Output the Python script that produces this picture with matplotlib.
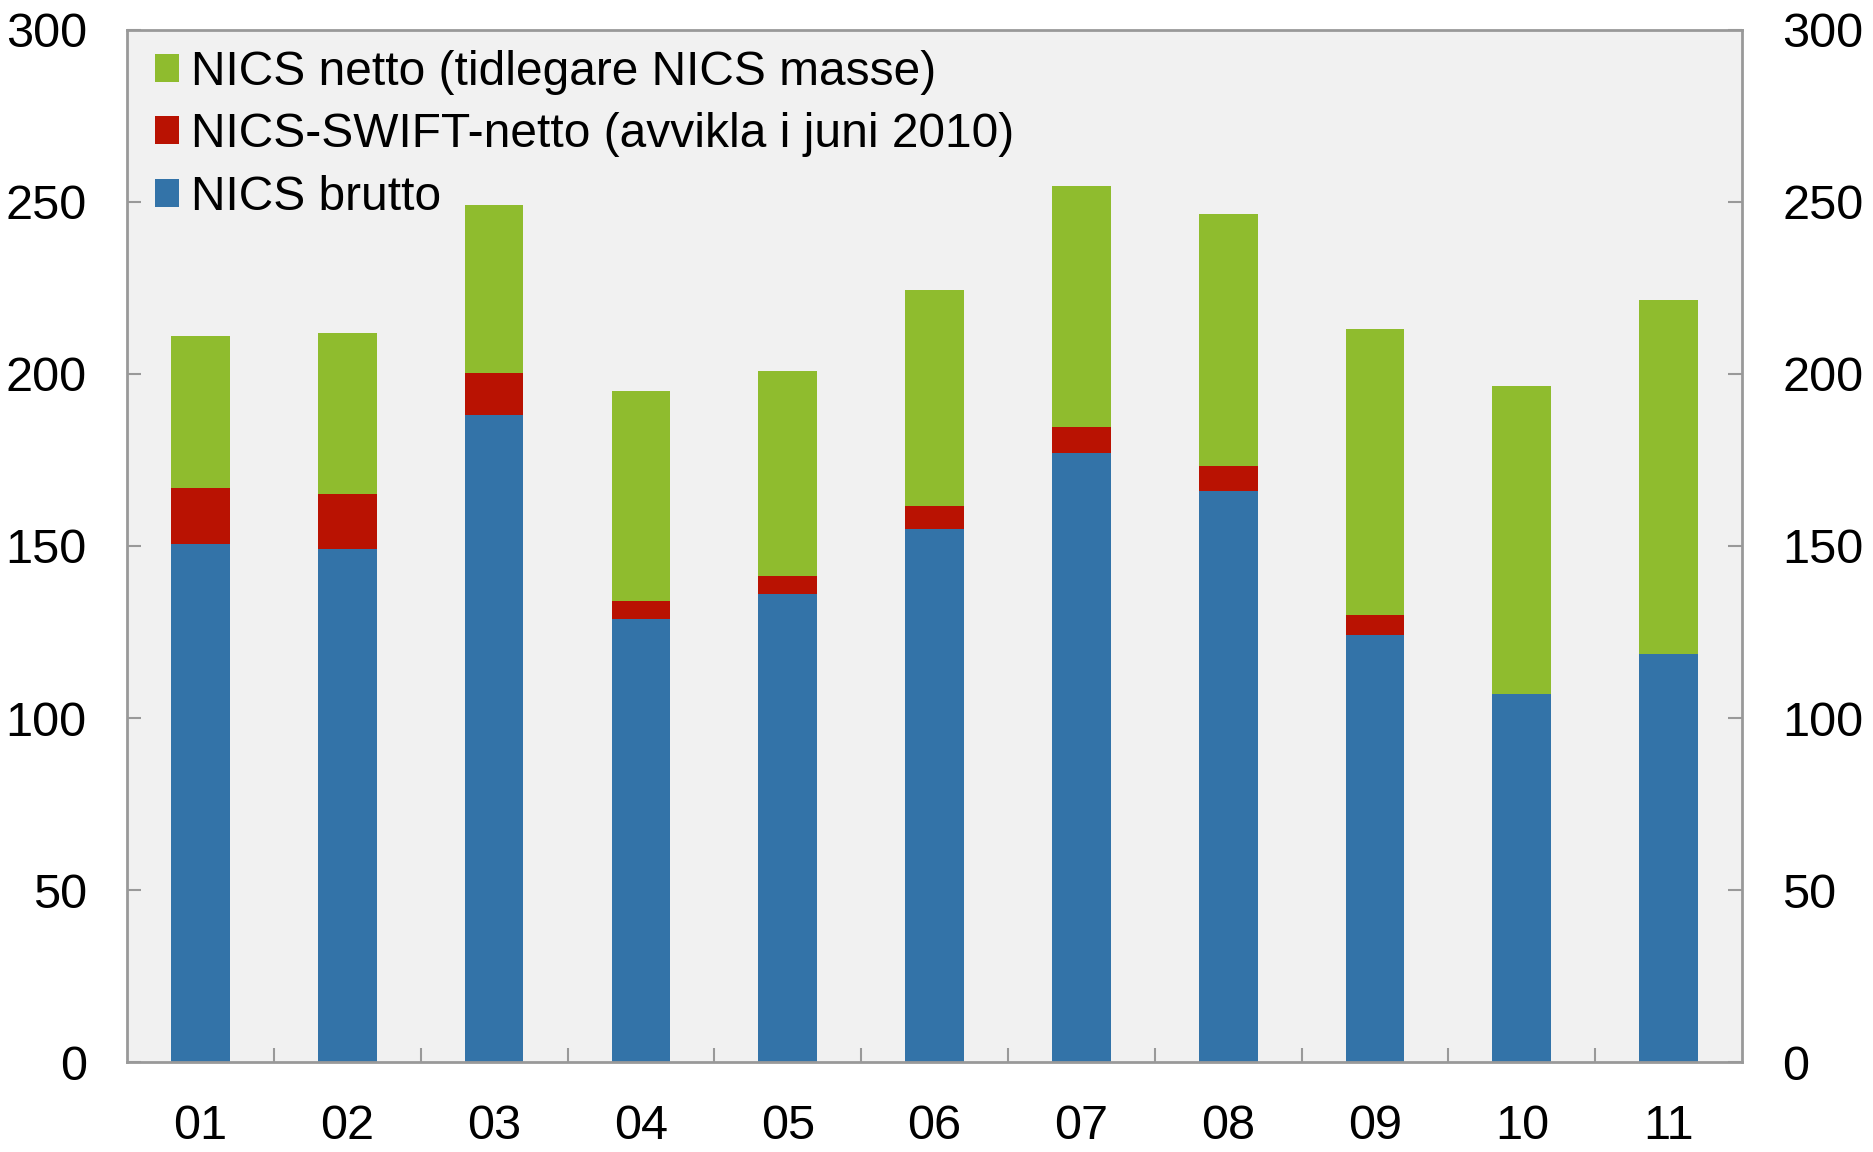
import numpy as np
import matplotlib.pyplot as plt
from matplotlib.patches import Patch
from matplotlib.ticker import FixedLocator

plt.rcParams['font.family'] = ['Liberation Sans', 'DejaVu Sans']

years = ['01', '02', '03', '04', '05', '06', '07', '08', '09', '10', '11']
brutto = [150.7, 149, 188, 128.8, 136, 155, 177, 166, 124, 107, 118.7]
swift = [16.3, 16, 12.3, 5.2, 5.3, 6.5, 7.7, 7.3, 6, 0, 0]
netto = [44, 47, 48.7, 61, 59.7, 62.8, 69.8, 73.2, 83, 89.5, 102.8]

c_blue = '#3373A8'
c_red = '#B91202'
c_green = '#8FBC2E'
c_axis = '#999999'

fig = plt.figure(figsize=(18.74, 11.52), dpi=100)
ax = fig.add_axes([0.0678, 0.0781, 0.8618, 0.8959])
ax.set_facecolor('#F1F1F1')

x = np.arange(len(years))
w = 0.4
b1 = np.array(brutto)
b2 = b1 + np.array(swift)
ax.bar(x, brutto, w, color=c_blue, linewidth=0)
ax.bar(x, swift, w, bottom=b1, color=c_red, linewidth=0)
ax.bar(x, netto, w, bottom=b2, color=c_green, linewidth=0)

ax.set_xlim(-0.5, len(years) - 0.5)
ax.set_ylim(0, 300)
ax.set_yticks(np.arange(0, 301, 50))
ax.set_xticks(x)
ax.set_xticklabels(years)
ax.xaxis.set_minor_locator(FixedLocator(x[:-1] + 0.5))

for s in ax.spines.values():
    s.set_color(c_axis)
    s.set_linewidth(2)

ax.tick_params(axis='x', which='major', length=0, pad=30, labelsize=35)
ax.tick_params(axis='x', which='minor', direction='in', length=10, width=1.5,
               color=c_axis)
ax.tick_params(axis='y', direction='in', length=10, width=1.5, color=c_axis,
               labelsize=35, pad=29, left=True, right=True,
               labelleft=True, labelright=True)

handles = [Patch(facecolor=c_green, label='NICS netto (tidlegare NICS masse)'),
           Patch(facecolor=c_red, label='NICS-SWIFT-netto (avvikla i juni 2010)'),
           Patch(facecolor=c_blue, label='NICS brutto')]
ax.legend(handles=handles, loc='upper left', bbox_to_anchor=(0.017, 0.981),
          frameon=False, fontsize=34.5, handlelength=0.52, handleheight=0.52,
          handletextpad=0.25, labelspacing=0.37, borderpad=0, borderaxespad=0)

fig.savefig('out.png', dpi=100)
